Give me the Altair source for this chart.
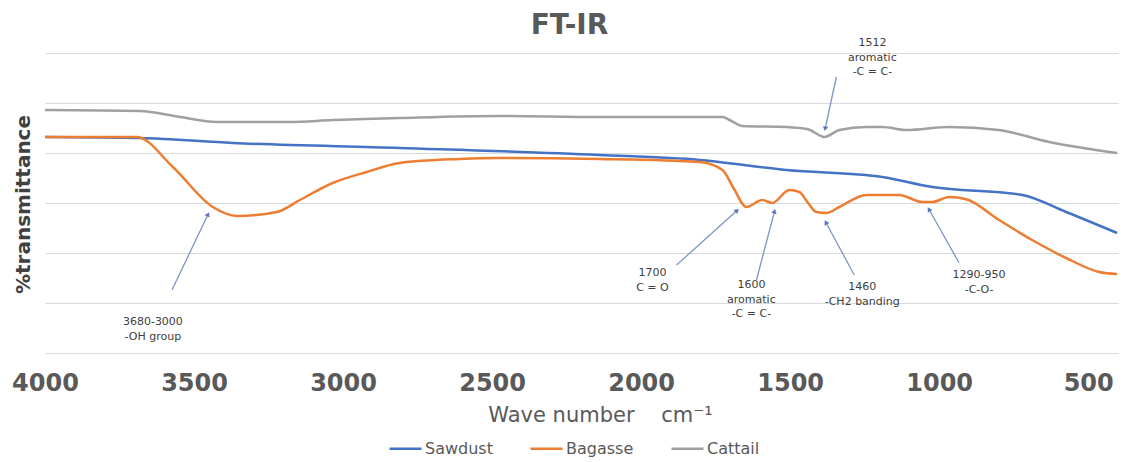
import math
import pandas as pd
import altair as alt

# ---- data (wavenumber cm^-1, relative %T units) ----
saw_wn = [4000, 3682, 3370, 2810, 2140, 1804, 1513, 1191, 1023, 721, 574, 403]
saw_T = [86.4, 86.0, 84.0, 82.0, 79.2, 77.2, 73.2, 70.4, 66.4, 63.2, 56.4, 48.0]

bag_wn = [4000, 3692, 3571, 3437, 3356, 3222, 3145, 3035, 2921, 2810, 2609, 2475,
          2140, 1804, 1727, 1690, 1647, 1593, 1560, 1503, 1469, 1440, 1412, 1379,
          1335, 1244, 1134, 1057, 1023, 966, 909, 799, 688, 574, 463, 403]
bag_T = [86.4, 86.4, 74.4, 58.4, 54.8, 56.4, 61.2, 68.0, 72.4, 76.0, 77.6, 78.0,
         77.6, 76.4, 73.2, 66.0, 58.4, 61.2, 60.0, 65.2, 64.4, 60.0, 56.4, 56.0,
         58.4, 63.2, 63.2, 60.4, 60.4, 62.4, 61.5, 53.2, 45.2, 38.0, 32.4, 31.6]

cat_wn = [4000, 3682, 3547, 3423, 3179, 3035, 2810, 2475, 2140, 1727, 1700, 1660,
          1513, 1440, 1385, 1335, 1244, 1191, 1110, 966, 800, 631, 403]
cat_T = [97.2, 96.8, 94.4, 92.4, 92.4, 93.2, 94.0, 94.8, 94.4, 94.4, 93.0, 90.8,
         90.4, 89.5, 86.4, 89.2, 90.4, 90.4, 89.2, 90.4, 89.2, 84.4, 80.0]

series_names = ["Sawdust", "Bagasse", "Cattail"]
series_colors = ["#4472C4", "#ED7D31", "#A0A0A0"]

x_ticks = [4000, 3500, 3000, 2500, 2000, 1500, 1000, 500]
y_grid = [0, 20, 40, 60, 80, 100, 120]

# annotations: label text, text anchor, arrow tail, arrow head (data units)
ann_text = ["3680-3000\n-OH group", "1700\nC = O", "1600\naromatic\n-C = C-",
            "1460\n-CH2 banding", "1290-950\n-C-O-", "1512\naromatic\n-C = C-"]
ann_tx = [3638, 1962, 1630, 1258, 866, 1224]
ann_ty = [14.8, 34.4, 29.6, 28.8, 33.6, 126.4]
tail_x = [3574, 1881, 1613, 1285, 933, 1345]
tail_y = [25.2, 35.2, 29.2, 31.2, 36.0, 110.4]
head_x = [3454, 1680, 1553, 1379, 1033, 1382]
head_y = [55.2, 56.8, 56.4, 52.0, 57.2, 90.0]

# ---- build tables ----
rows = []
for name, wn, tv in [("Sawdust", saw_wn, saw_T), ("Bagasse", bag_wn, bag_T), ("Cattail", cat_wn, cat_T)]:
    for w, t in zip(wn, tv):
        rows.append({"wn": w, "T": t, "series": name})
df = pd.DataFrame(rows)

W, H = 1073, 300
XMIN, XMAX = 400, 4000
YMAX = 120
kx = W / (XMAX - XMIN)
ky = H / YMAX

angles = []
for wt, vt, wh, vh in zip(tail_x, tail_y, head_x, head_y):
    dx = (wt - wh) * kx
    dy = -(vh - vt) * ky
    angles.append(math.degrees(math.atan2(dx, -dy)) % 360)

ann = pd.DataFrame({"label": ann_text, "tx": ann_tx, "ty": ann_ty,
                    "wt": tail_x, "vt": tail_y, "wh": head_x, "vh": head_y, "ang": angles})

xscale = alt.Scale(domain=[XMIN, XMAX], reverse=True, nice=False, zero=False)
yscale = alt.Scale(domain=[0, YMAX], nice=False, zero=False)

NB = "\u00a0"
lines = alt.Chart(df).mark_line(strokeWidth=2.5, interpolate="monotone").encode(
    x=alt.X("wn:Q", scale=xscale,
            axis=alt.Axis(values=x_ticks, format="d", title="Wave number" + NB * 4 + "cm⁻¹",
                          labelFont="DejaVu Sans", labelFontWeight="bold", labelFontSize=24,
                          labelColor="#595959", labelFlush=False, labelOverlap=False,
                          labelPadding=30, labelBaseline="middle",
                          ticks=False, domain=False, grid=False,
                          titleFont="DejaVu Sans", titleFontSize=21, titleFontWeight="normal",
                          titleColor="#595959", titleX=555, titleY=62, titleBaseline="middle")),
    y=alt.Y("T:Q", scale=yscale,
            axis=alt.Axis(values=y_grid, labels=False, ticks=False, domain=False, grid=True,
                          gridColor="#d9d9d9", gridWidth=1, title="%transmittance",
                          titleFont="DejaVu Sans", titleFontSize=20, titleFontWeight="bold",
                          titleColor="#404040", titleAngle=270, titleX=-22, titleY=151,
                          titleAlign="center", titleBaseline="middle")),
    color=alt.Color("series:N", sort=series_names,
                    scale=alt.Scale(domain=series_names, range=series_colors),
                    legend=alt.Legend(title=None, orient="none", legendX=343, legendY=378,
                                      direction="horizontal", symbolType="stroke",
                                      symbolSize=1024, symbolStrokeWidth=2.5,
                                      labelFont="DejaVu Sans", labelFontSize=16,
                                      labelColor="#595959", labelOffset=2,
                                      columnPadding=32, padding=0)),
)

arrows = alt.Chart(ann).mark_rule(color="#7F95C8", strokeWidth=1.3).encode(
    x=alt.X("wt:Q", scale=xscale), y=alt.Y("vt:Q", scale=yscale),
    x2="wh:Q", y2="vh:Q")

heads = alt.Chart(ann).mark_point(shape="triangle", filled=True, size=30,
                                  color="#5B78C0", opacity=1).encode(
    x=alt.X("wh:Q", scale=xscale), y=alt.Y("vh:Q", scale=yscale),
    angle=alt.Angle("ang:Q", scale=None))

labels = alt.Chart(ann).mark_text(lineBreak="\n", font="DejaVu Sans", fontSize=11,
                                  color="#404040", baseline="top", align="center",
                                  lineHeight=14.5).encode(
    x=alt.X("tx:Q", scale=xscale), y=alt.Y("ty:Q", scale=yscale), text="label:N")

chart = alt.layer(lines, arrows, heads, labels).properties(
    width=W, height=H,
    title=alt.Title("FT-IR", font="DejaVu Sans", fontSize=28, fontWeight="bold",
                    color="#595959", anchor="middle", frame="group", dx=-12, offset=0, dy=3),
    autosize=alt.AutoSizeParams(type="none"),
    padding={"left": 45, "top": 53, "right": 10, "bottom": 109},
    background="white",
).configure_view(strokeWidth=0)

chart.save("out.html", embed_options={"renderer": "svg", "actions": False})
